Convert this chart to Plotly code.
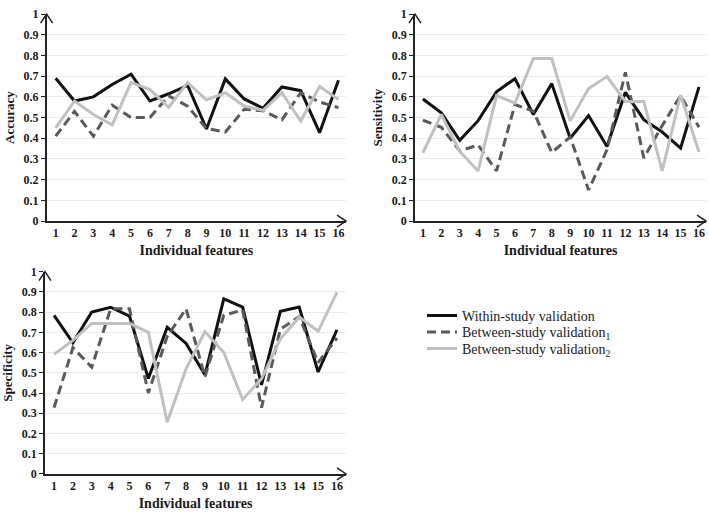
import plotly.graph_objects as go

features = list(range(1, 17))
feature_labels = [str(i) for i in features]

y_tick_vals = [0, 0.1, 0.2, 0.3, 0.4, 0.5, 0.6, 0.7, 0.8, 0.9, 1]
y_tick_text = ["0", "0.1", "0.2", "0.3", "0.4", "0.5", "0.6", "0.7", "0.8", "0.9", "1"]

series_names = ["Within-study validation",
                "Between-study validation<sub>1</sub>",
                "Between-study validation<sub>2</sub>"]

acc_within = [0.69, 0.58, 0.60, 0.66, 0.71, 0.58, 0.615, 0.655, 0.445, 0.687, 0.59, 0.545, 0.648, 0.63, 0.427, 0.68]
acc_between1 = [0.41, 0.53, 0.41, 0.56, 0.50, 0.50, 0.605, 0.555, 0.447, 0.43, 0.54, 0.533, 0.489, 0.62, 0.575, 0.548]
acc_between2 = [0.45, 0.58, 0.515, 0.465, 0.67, 0.635, 0.55, 0.67, 0.585, 0.62, 0.556, 0.535, 0.62, 0.483, 0.65, 0.587]

sens_within = [0.59, 0.523, 0.39, 0.485, 0.625, 0.688, 0.515, 0.664, 0.40, 0.51, 0.36, 0.622, 0.49, 0.43, 0.352, 0.648]
sens_between1 = [0.487, 0.453, 0.339, 0.367, 0.242, 0.563, 0.531, 0.331, 0.406, 0.15, 0.344, 0.719, 0.305, 0.461, 0.606, 0.453]
sens_between2 = [0.33, 0.515, 0.336, 0.242, 0.606, 0.57, 0.786, 0.786, 0.484, 0.64, 0.698, 0.578, 0.578, 0.242, 0.609, 0.333]

spec_within = [0.784, 0.648, 0.80, 0.824, 0.78, 0.472, 0.725, 0.645, 0.49, 0.865, 0.825, 0.44, 0.804, 0.825, 0.504, 0.712]
spec_between1 = [0.328, 0.624, 0.528, 0.816, 0.816, 0.40, 0.68, 0.816, 0.48, 0.785, 0.81, 0.328, 0.715, 0.777, 0.55, 0.672]
spec_between2 = [0.592, 0.66, 0.744, 0.744, 0.744, 0.70, 0.256, 0.52, 0.704, 0.60, 0.368, 0.47, 0.668, 0.775, 0.705, 0.897]

panels = [
    ("x", "y", "Accuracy", [acc_within, acc_between1, acc_between2]),
    ("x2", "y2", "Sensitivity", [sens_within, sens_between1, sens_between2]),
    ("x3", "y3", "Specificity", [spec_within, spec_between1, spec_between2]),
]

styles = [
    dict(color="#111111", width=3, dash="solid"),
    dict(color="#5a5a5a", width=3, dash="9px,5px"),
    dict(color="#c0c0c0", width=3, dash="solid"),
]
legend_ids = ["legend", "legend2", "legend3"]
legend_tops = [301, 318, 335]

W, H = 709, 516
FONT = "Liberation Serif, Times New Roman, serif"

fig = go.Figure()
for pi, (xa, ya, title, data) in enumerate(panels):
    for si, vals in enumerate(data):
        fig.add_trace(go.Scatter(
            x=features, y=vals, mode="lines", xaxis=xa, yaxis=ya,
            name=series_names[si], line=styles[si],
            showlegend=(pi == 0), legend=legend_ids[si],
        ))

def px_dom_x(a, b):
    return [a / W, b / W]

def px_dom_y(top, bottom):
    return [1 - bottom / H, 1 - top / H]

domains = [
    (px_dom_x(46.6, 346), px_dom_y(7.3, 220), [0.52, 16.4]),
    (px_dom_x(415, 706), px_dom_y(7.3, 220), [0.57, 16.38]),
    (px_dom_x(45, 346), px_dom_y(272, 480), [0.52, 16.48]),
]

layout = dict(
    width=W, height=H,
    margin=dict(l=0, r=0, t=0, b=0),
    paper_bgcolor="white", plot_bgcolor="white",
    font=dict(family=FONT, color="#1a1a1a"),
)
for lid, top in zip(legend_ids, legend_tops):
    layout[lid] = dict(x=422 / W, y=1 - top / H, xanchor="left", yanchor="top",
                       bgcolor="rgba(0,0,0,0)",
                       font=dict(family=FONT, size=14, color="#1a1a1a"))

shapes = []
for i, (xa, ya, title, data) in enumerate(panels):
    xd, yd, xr = domains[i]
    sfx = "" if i == 0 else str(i + 1)
    layout["xaxis" + sfx] = dict(
        domain=xd, range=xr, anchor=ya, tickvals=features, ticktext=feature_labels,
        showgrid=False, zeroline=False, showline=True, linecolor="#222", linewidth=1.5,
        ticks="", tickfont=dict(family=FONT, size=12, weight="bold", color="#1a1a1a"),
        title=dict(text="Individual features", font=dict(family=FONT, size=14, weight="bold", color="#1a1a1a"), standoff=6),
        fixedrange=True,
    )
    layout["yaxis" + sfx] = dict(
        domain=yd, range=[0, 1], anchor=xa, tickvals=y_tick_vals, ticktext=y_tick_text,
        showgrid=True, gridcolor="#ebebeb", gridwidth=1, zeroline=False,
        showline=True, linecolor="#222", linewidth=1.5,
        ticks="outside", ticklen=4, tickcolor="#222", tickwidth=1,
        tickfont=dict(family=FONT, size=12, weight="bold", color="#1a1a1a"),
        title=dict(text=title, font=dict(family=FONT, size=13, weight="bold", color="#1a1a1a"), standoff=6),
        fixedrange=True,
    )
    xref_dom = ("x" if i == 0 else "x" + str(i + 1)) + " domain"
    yref_dom = ("y" if i == 0 else "y" + str(i + 1)) + " domain"
    shapes.append(dict(type="path", xref=xref_dom, yref=yref_dom,
                       xsizemode="pixel", ysizemode="pixel", xanchor=1, yanchor=0,
                       path="M -9,6 L 0,0 L -9,-6", line=dict(color="#222", width=1.5)))
    shapes.append(dict(type="path", xref=xref_dom, yref=yref_dom,
                       xsizemode="pixel", ysizemode="pixel", xanchor=0, yanchor=1,
                       path="M -6,-9 L 0,0 L 6,-9", line=dict(color="#222", width=1.5)))

layout["shapes"] = shapes
fig.update_layout(**layout)
fig.write_html("out.html", config={"displayModeBar": False},
               post_script="document.body.style.margin='0';document.body.style.overflow='hidden';")
